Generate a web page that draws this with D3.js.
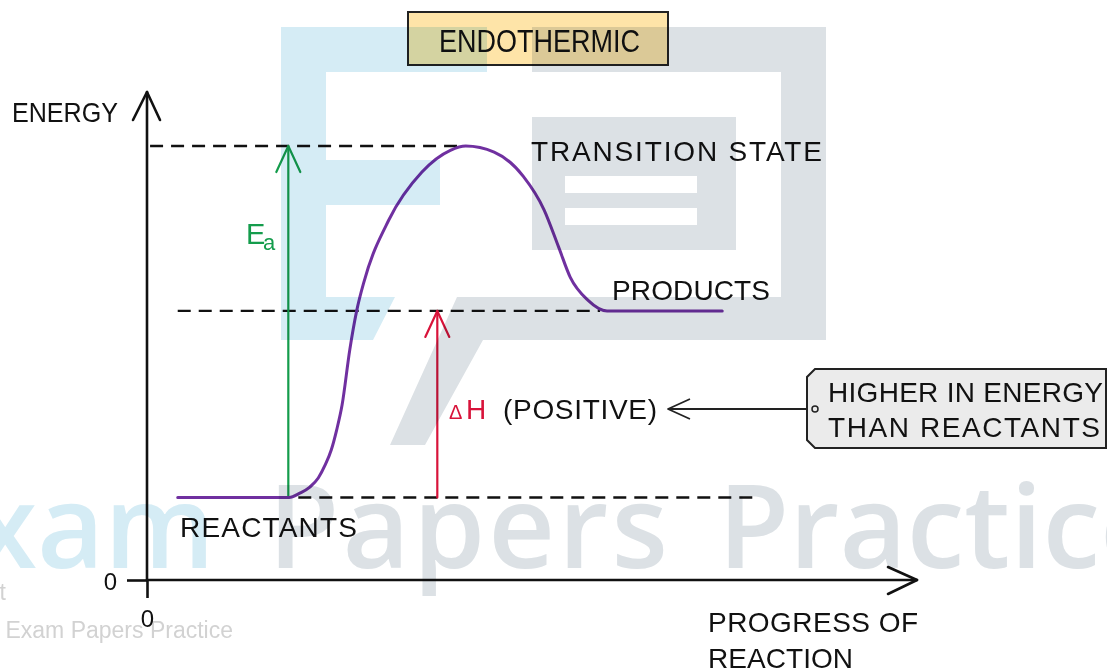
<!DOCTYPE html>
<html><head><meta charset="utf-8">
<script src="https://cdn.jsdelivr.net/npm/d3@7"></script>
<style>html,body{margin:0;padding:0;background:#fff;} svg{display:block}</style>
</head><body>
<svg id="c" width="1107" height="669"></svg>
<script>
// ---- data ----
const progress = [4, 18.5, 19.9, 21.2, 22.3, 23.2, 24.0, 24.7, 25.4, 26.4, 27.3, 28.3, 31.5, 35.8, 39.5, 41.5, 45.2, 49.0, 51.7, 53.6, 55.1, 57.4, 59.9, 74.9];
const energy   = [19, 19, 20.0, 21.4, 23.5, 26.5, 30.0, 34.6, 40.3, 53.0, 62, 69, 83, 94, 99, 100, 98.6, 93, 85.3, 76.7, 69.8, 64.5, 62, 62];
const levelNames  = ["REACTANTS", "PRODUCTS", "TRANSITION STATE"];
const levelValues = [19, 62, 100];
const guideStart  = [19.7, 4.0, 0.4];
const guideEnd    = [79.8, 59.0, 40.8];
const arrowNames    = ["Ea", "ΔH"];
const arrowProgress = [18.4, 37.8];
const arrowFrom     = [19, 19];
const arrowTo       = [100, 62];
const tickValues = [0];
const tickLabels = ["0"];

// ---- layout ----
const W = 1107, H = 669;
const svg = d3.select("#c");
svg.append("rect").attr("width", W).attr("height", H).attr("fill", "#fff");
const x = d3.scaleLinear().domain([0, 100]).range([147, 915]);
const y = d3.scaleLinear().domain([0, 100]).range([580, 146]);
const FONT = "'Liberation Sans', Arial, sans-serif";

function label(g, txt, x0, base, width, size, color) {
  const t = g.append("text").attr("x", x0).attr("y", base)
    .attr("font-family", FONT).attr("font-size", size)
    .attr("fill", color || "#111")
    .text(txt);
  const natural = t.node().getComputedTextLength();
  t.attr("textLength", width)
   .attr("lengthAdjust", natural > width ? "spacingAndGlyphs" : "spacing");
  return t;
}

// title box
svg.append("rect").attr("x", 408).attr("y", 12).attr("width", 260).attr("height", 53)
  .attr("fill", "#fee4a8").attr("stroke", "#222").attr("stroke-width", 2);
label(svg, "ENDOTHERMIC", 439, 52, 201, 31);

// axes (d3 axes used for the "0" ticks)
const gx = svg.append("g").attr("transform", `translate(0,${y(0)})`)
  .call(d3.axisBottom(x).tickValues(tickValues).tickSize(18).tickPadding(6).tickFormat((d, i) => tickLabels[i]));
const gy = svg.append("g").attr("transform", `translate(${x(0)},0)`)
  .call(d3.axisLeft(y).tickValues(tickValues).tickSize(20).tickPadding(10).tickFormat((d, i) => tickLabels[i]));
[gx, gy].forEach(g => {
  g.select(".domain").remove();
  g.selectAll("line").attr("stroke", "#111").attr("stroke-width", 2.6);
  g.selectAll("text").attr("font-family", FONT).attr("font-size", 24).attr("fill", "#111");
});
gy.selectAll("text").attr("dy", "0.4em");
gx.selectAll("text").attr("dy", "0.95em");

const axisG = svg.append("g").attr("stroke", "#111").attr("stroke-width", 2.6)
  .attr("fill", "none").attr("stroke-linecap", "round").attr("stroke-linejoin", "round");
axisG.append("path").attr("d", `M${x(0)},${y(0)}V92`);
axisG.append("path").attr("d", `M${x(0) - 14},120L${x(0)},92L${x(0) + 13},120`);
axisG.append("path").attr("d", `M${x(0)},${y(0)}H917`);
axisG.append("path").attr("d", `M888,567L917,${y(0)}L888,594`);

label(svg, "ENERGY", 12, 122, 106, 28);
label(svg, "PROGRESS OF", 708, 632, 210, 28);
label(svg, "REACTION", 708, 668, 145, 28);

// dashed guides
svg.append("g").selectAll("line").data(levelValues).join("line")
  .attr("x1", (d, i) => x(guideStart[i])).attr("x2", (d, i) => x(guideEnd[i]))
  .attr("y1", d => y(d)).attr("y2", d => y(d))
  .attr("stroke", "#111").attr("stroke-width", 2.4).attr("stroke-dasharray", "13,8");

// arrows
const arrowColors = ["#149c4c", "#d8133a"];
const ag = svg.append("g").attr("fill", "none").attr("stroke-width", 2.2)
  .attr("stroke-linecap", "round").attr("stroke-linejoin", "round");
arrowProgress.forEach((p, i) => {
  const ax = x(p), y0 = y(arrowFrom[i]), y1 = y(arrowTo[i]);
  ag.append("path").attr("stroke", arrowColors[i]).attr("d", `M${ax},${y0}V${y1}`);
  ag.append("path").attr("stroke", arrowColors[i]).attr("d", `M${ax - 12},${y1 + 26}L${ax},${y1}L${ax + 12},${y1 + 26}`);
});

// energy profile curve
const pts = progress.map((p, i) => [p, energy[i]]);
svg.append("path").datum(pts)
  .attr("d", d3.line().x(d => x(d[0])).y(d => y(d[1])).curve(d3.curveMonotoneX))
  .attr("fill", "none").attr("stroke", "#7030a0").attr("stroke-width", 3)
  .attr("stroke-linecap", "round");

// level labels
label(svg, levelNames[2], 531, 161, 291, 28);
label(svg, levelNames[1], 612, 300, 158, 28);
label(svg, levelNames[0], 180, 537, 177, 28);

// Ea label
svg.append("text").attr("x", 246).attr("y", 244).attr("font-family", FONT).attr("font-size", 29)
  .attr("fill", arrowColors[0]).text("E");
svg.append("text").attr("x", 263).attr("y", 250).attr("font-family", FONT).attr("font-size", 22)
  .attr("fill", arrowColors[0]).text("a");
// ΔH label
svg.append("text").attr("x", 449).attr("y", 419).attr("font-family", FONT).attr("font-size", 20)
  .attr("fill", arrowColors[1]).text("Δ");
svg.append("text").attr("x", 466).attr("y", 419).attr("font-family", FONT).attr("font-size", 28)
  .attr("fill", arrowColors[1]).text("H");
label(svg, "(POSITIVE)", 503, 419, 154, 28);

// callout
const cg = svg.append("g");
cg.append("path").attr("d", "M815,409H668M690,399L668,409L690,419")
  .attr("fill", "none").attr("stroke", "#222").attr("stroke-width", 1.8).attr("stroke-linejoin", "round");
cg.append("path").attr("d", "M815,369H1106V448H815L807,440V377Z")
  .attr("fill", "#ebebeb").attr("stroke", "#222").attr("stroke-width", 2);
cg.append("circle").attr("cx", 815).attr("cy", 409).attr("r", 3).attr("fill", "#ebebeb").attr("stroke", "#222").attr("stroke-width", 1.5);
label(cg, "HIGHER IN ENERGY", 828, 402, 275, 28);
label(cg, "THAN REACTANTS", 828, 437, 272, 28);

// ---- watermark (multiply overlay) ----
const wm = svg.append("g").style("mix-blend-mode", "multiply");
const blue = "#d5ecf5", gray = "#dce1e5";
wm.append("path").attr("fill", blue)
  .attr("d", "M281,27H487V72H326V160H440V205H326V297H395L373,340H281Z");
wm.append("path").attr("fill", gray)
  .attr("d", "M532,27H826V340H483L425,445H390L457,297H781V72H532Z");
wm.append("rect").attr("x", 532).attr("y", 117).attr("width", 204).attr("height", 133).attr("fill", gray);
wm.append("rect").attr("x", 565).attr("y", 176).attr("width", 132).attr("height", 17).attr("fill", "#fff");
wm.append("rect").attr("x", 565).attr("y", 208).attr("width", 132).attr("height", 17).attr("fill", "#fff");
wm.append("text").attr("x", 215).attr("y", 568).attr("text-anchor", "end")
  .attr("font-family", "'Open Sans', sans-serif").attr("font-weight", 600).attr("font-size", 116)
  .attr("fill", blue).text("Exam");
wm.append("text").attr("x", 268).attr("y", 568)
  .attr("font-family", "'Open Sans', sans-serif").attr("font-weight", 600).attr("font-size", 116)
  .attr("textLength", 400).attr("lengthAdjust", "spacing")
  .attr("fill", gray).text("Papers");
wm.append("text").attr("x", 718).attr("y", 568)
  .attr("font-family", "'Open Sans', sans-serif").attr("font-weight", 600).attr("font-size", 116)
  .attr("fill", gray).text("Practice");
wm.append("text").attr("x", 233).attr("y", 638).attr("text-anchor", "end")
  .attr("font-family", FONT).attr("font-size", 23).attr("fill", "#d2d2d2").text("Exam Papers Practice");
wm.append("text").attr("x", 6).attr("y", 600).attr("text-anchor", "end")
  .attr("font-family", FONT).attr("font-size", 23).attr("fill", "#d2d2d2").text("Copyright");
</script>
</body></html>
